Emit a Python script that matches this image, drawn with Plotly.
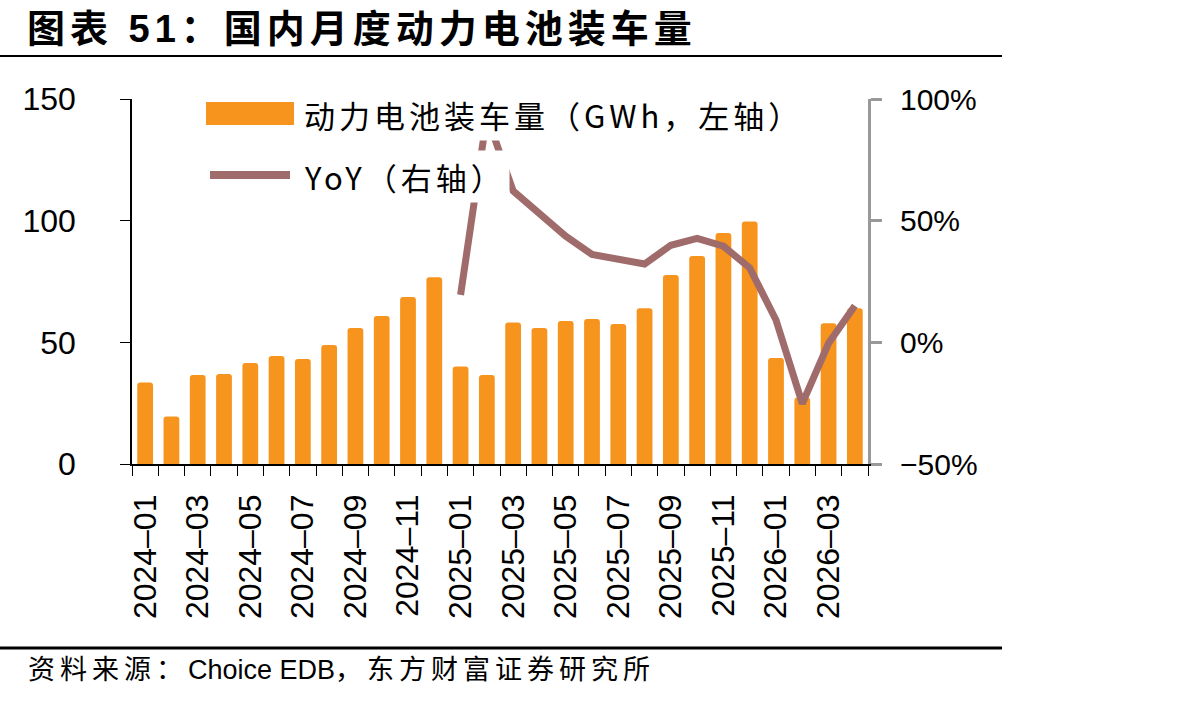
import plotly.graph_objects as go

# ---------------- data ----------------
months = ["2024-01", "2024-02", "2024-03", "2024-04", "2024-05", "2024-06",
          "2024-07", "2024-08", "2024-09", "2024-10", "2024-11", "2024-12",
          "2025-01", "2025-02", "2025-03", "2025-04", "2025-05", "2025-06",
          "2025-07", "2025-08", "2025-09", "2025-10", "2025-11", "2025-12",
          "2026-01", "2026-02", "2026-03", "2026-04"]
volume_gwh = [33.5, 19.5, 36.6, 37.0, 41.5, 44.4, 43.2, 48.9, 55.9, 60.8, 68.6, 76.7,
              40.1, 36.6, 58.2, 55.9, 58.8, 59.6, 57.5, 64.0, 77.7, 85.5, 94.9, 99.7,
              43.6, 27.3, 57.8, 64.0]
yoy_pct = [None, None, None, None, None, None, None, None, None, None, None, None,
           19.5, 93.0, 62.2, 53.3, 43.6, 36.1, 34.0, 32.2, 39.9, 42.7, 39.5, 30.6,
           9.2, -25.2, -0.4, 15.0]
tick_labels = ["2024–01", "", "2024–03", "", "2024–05", "", "2024–07", "",
               "2024–09", "", "2024–11", "", "2025–01", "", "2025–03", "",
               "2025–05", "", "2025–07", "", "2025–09", "", "2025–11", "",
               "2026–01", "", "2026–03", ""]
left_ticks = [0, 50, 100, 150]
right_ticks = [-50, 0, 50, 100]
right_tick_labels = ["−50%", "0%", "50%", "100%"]

title_text = "图表 51：国内月度动力电池装车量"
legend_bar = "动力电池装车量（GWh，左轴）"
legend_line = "YoY（右轴）"
source_parts = ["资料来源：", "Choice EDB", "，东方财富证券研究所"]

BAR_COLOR = "#F7941E"
LINE_COLOR = "#A06B6B"
CJK = "Noto Sans CJK SC"
MIX = "Liberation Sans, Arial, Noto Sans CJK SC"
NUM = "Liberation Sans, Arial"

# plot-area geometry (pixels)
L, R, T, B = 132, 868, 99, 464
W, H = R - L, B - T
def px(x):
    return (x - L) / W
def py(y):
    return (B - y) / H

fig = go.Figure()
fig.add_trace(go.Bar(x=months, y=volume_gwh, name=legend_bar,
                     marker=dict(color=BAR_COLOR, line=dict(width=0), cornerradius=3),
                     width=0.6, showlegend=False))
fig.add_trace(go.Scatter(x=months, y=yoy_pct, name=legend_line, yaxis="y2",
                         mode="lines", line=dict(color=LINE_COLOR, width=7),
                         connectgaps=False, showlegend=False))

fig.update_layout(
    width=1192, height=701,
    margin=dict(l=L, r=1192 - R, t=T, b=701 - B, autoexpand=False),
    paper_bgcolor="white", plot_bgcolor="white",
    bargap=0.4,
    xaxis=dict(type="category", tickvals=months, ticktext=tick_labels,
               tickangle=-90, tickson="boundaries", ticks="outside", ticklen=10,
               tickwidth=1.3, tickcolor="black", showline=True, linecolor="black",
               linewidth=1.5, showgrid=False, zeroline=False,
               tickfont=dict(family=NUM, size=32, color="black"),
               ticklabelstandoff=16, range=[-0.5, len(months) - 0.5]),
    yaxis=dict(range=[0, 150], tickvals=left_ticks, ticks="outside", ticklen=10,
               tickwidth=1.3, tickcolor="black", showline=True, linecolor="black",
               linewidth=1.5, showgrid=False, zeroline=False,
               tickfont=dict(family=NUM, size=32, color="black"),
               ticklabelstandoff=38),
    yaxis2=dict(range=[-50, 100], tickvals=right_ticks, ticktext=right_tick_labels,
                overlaying="y", side="right", ticks="outside", ticklen=11,
                tickwidth=3, tickcolor="#999999", showline=True, linecolor="#999999",
                linewidth=3, showgrid=False, zeroline=False,
                tickfont=dict(family=NUM, size=30, color="black"),
                ticklabelstandoff=12),
)

shapes = [
    # title rule and footer rule
    dict(type="line", xref="paper", yref="paper", x0=px(0), x1=px(1002),
         y0=py(56), y1=py(56), line=dict(color="black", width=2)),
    dict(type="line", xref="paper", yref="paper", x0=px(0), x1=px(1002),
         y0=py(648), y1=py(648), line=dict(color="black", width=3)),
    # legend symbols
    dict(type="rect", xref="paper", yref="paper", x0=px(206), x1=px(294),
         y0=py(125), y1=py(102), fillcolor=BAR_COLOR, line=dict(width=0), layer="above"),
    dict(type="line", xref="paper", yref="paper", x0=px(210), x1=px(290),
         y0=py(175), y1=py(175), line=dict(color=LINE_COLOR, width=8), layer="above"),
]
fig.update_layout(shapes=shapes)

sp = '<span style="letter-spacing:5px">'
source_html = sp + source_parts[0] + '</span>' + source_parts[1] + sp + source_parts[2] + '</span>'

ann = [
    dict(text='<b><span style="letter-spacing:5px">' + title_text + '</span></b>',
         x=px(25), y=py(29), xref="paper", yref="paper",
         xanchor="left", yanchor="middle", showarrow=False,
         font=dict(family=MIX, size=38, color="black")),
    dict(text=source_html,
         x=px(26), y=py(670), xref="paper", yref="paper",
         xanchor="left", yanchor="middle", showarrow=False,
         font=dict(family=MIX, size=27, color="black")),
    dict(text='<span style="letter-spacing:4px">' + legend_bar + '</span>',
         x=px(300), y=py(114), xref="paper", yref="paper",
         xanchor="left", yanchor="middle", showarrow=False, bgcolor="white", borderpad=3,
         font=dict(family=CJK, size=31, color="black")),
    dict(text='<span style="letter-spacing:4px">' + legend_line + '</span>',
         x=px(300), y=py(176), xref="paper", yref="paper",
         xanchor="left", yanchor="middle", showarrow=False, bgcolor="white", borderpad=3,
         font=dict(family=CJK, size=31, color="black")),
]
fig.update_layout(annotations=ann)

fig.write_html("out.html")
